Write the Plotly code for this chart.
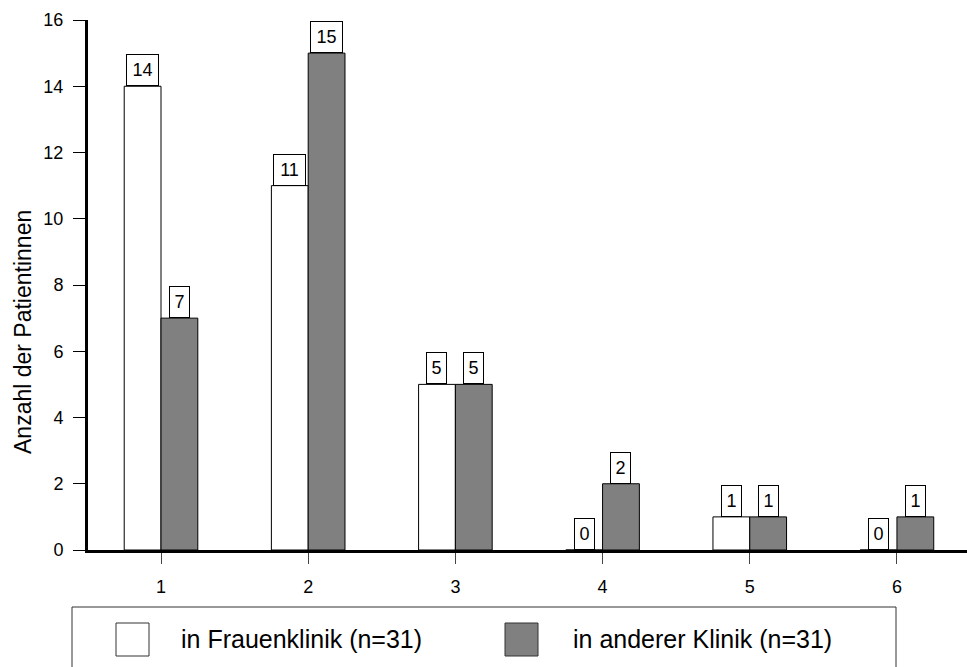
import plotly.graph_objects as go

categories = [1, 2, 3, 4, 5, 6]
frauenklinik = [14, 11, 5, 0, 1, 0]
andere_klinik = [7, 15, 5, 2, 1, 1]
series_names = ["in Frauenklinik (n=31)", "in anderer Klinik (n=31)"]
y_ticks = [0, 2, 4, 6, 8, 10, 12, 14, 16]
y_title = "Anzahl der Patientinnen"

FONT = "Liberation Sans, Arial, sans-serif"
W, H = 967, 667
L, R, T, B = 88, 0, 20, 117
PW, PH = W - L - R, H - T - B

def px_x(p):
    return (p - L) / PW

def px_y(p):
    return (H - B - p) / PH

fig = go.Figure()
fig.add_trace(go.Bar(x=categories, y=frauenklinik, name=series_names[0],
                     width=0.25, offset=-0.25,
                     marker=dict(color="white", line=dict(color="black", width=1)),
                     showlegend=False))
fig.add_trace(go.Bar(x=categories, y=andere_klinik, name=series_names[1],
                     width=0.25, offset=0,
                     marker=dict(color="#808080", line=dict(color="black", width=1)),
                     showlegend=False))

annotations = []
for c, v1, v2 in zip(categories, frauenklinik, andere_klinik):
    for xc, v in ((c - 0.125, v1), (c + 0.125, v2)):
        txt = str(v)
        annotations.append(dict(
            x=xc, y=v, xref="x", yref="y", text=txt, showarrow=False,
            xanchor="center", yanchor="bottom",
            font=dict(family=FONT, size=18, color="black"),
            bgcolor="white", bordercolor="black", borderwidth=1, borderpad=0,
            width=19 if len(txt) == 1 else 31, height=30, align="center"))

# y-axis title
annotations.append(dict(
    x=px_x(23), y=px_y(332), xref="paper", yref="paper", text=y_title,
    showarrow=False, textangle=-90, xanchor="center", yanchor="middle",
    font=dict(family=FONT, size=23, color="black")))

# legend (drawn manually)
shapes = [
    dict(type="rect", xref="paper", yref="paper",
         x0=px_x(72), x1=px_x(896), y0=px_y(607), y1=px_y(690),
         line=dict(color="#333333", width=1), fillcolor="white", layer="below"),
    dict(type="rect", xref="paper", yref="paper",
         x0=px_x(116), x1=px_x(149), y0=px_y(623), y1=px_y(656),
         line=dict(color="#333333", width=1), fillcolor="white"),
    dict(type="rect", xref="paper", yref="paper",
         x0=px_x(505), x1=px_x(538), y0=px_y(623), y1=px_y(656),
         line=dict(color="#333333", width=1), fillcolor="#808080"),
]
for name, xl in zip(series_names, (179, 571)):
    annotations.append(dict(
        x=px_x(xl), y=px_y(639), xref="paper", yref="paper", text=name,
        showarrow=False, xanchor="left", yanchor="middle",
        font=dict(family=FONT, size=25, color="black")))

fig.update_layout(
    width=W, height=H,
    margin=dict(l=L, r=R, t=T, b=B, pad=0),
    paper_bgcolor="white", plot_bgcolor="white",
    barmode="overlay",
    annotations=annotations, shapes=shapes,
    font=dict(family=FONT, size=18, color="black"),
)
fig.update_xaxes(range=[0.504, 6.476], tickvals=categories,
                 ticktext=[str(c) for c in categories],
                 showline=True, linecolor="black", linewidth=3,
                 ticks="outside", ticklen=11, tickwidth=1, tickcolor="#444444",
                 ticklabelstandoff=7,
                 showgrid=False, zeroline=False,
                 tickfont=dict(family=FONT, size=18, color="black"))
fig.update_yaxes(range=[0, 16], tickvals=y_ticks,
                 showline=True, linecolor="black", linewidth=3,
                 ticks="outside", ticklen=12, tickwidth=1, tickcolor="black",
                 ticklabelstandoff=6,
                 showgrid=False, zeroline=False,
                 tickfont=dict(family=FONT, size=18, color="black"))

fig.write_html("out.html")
